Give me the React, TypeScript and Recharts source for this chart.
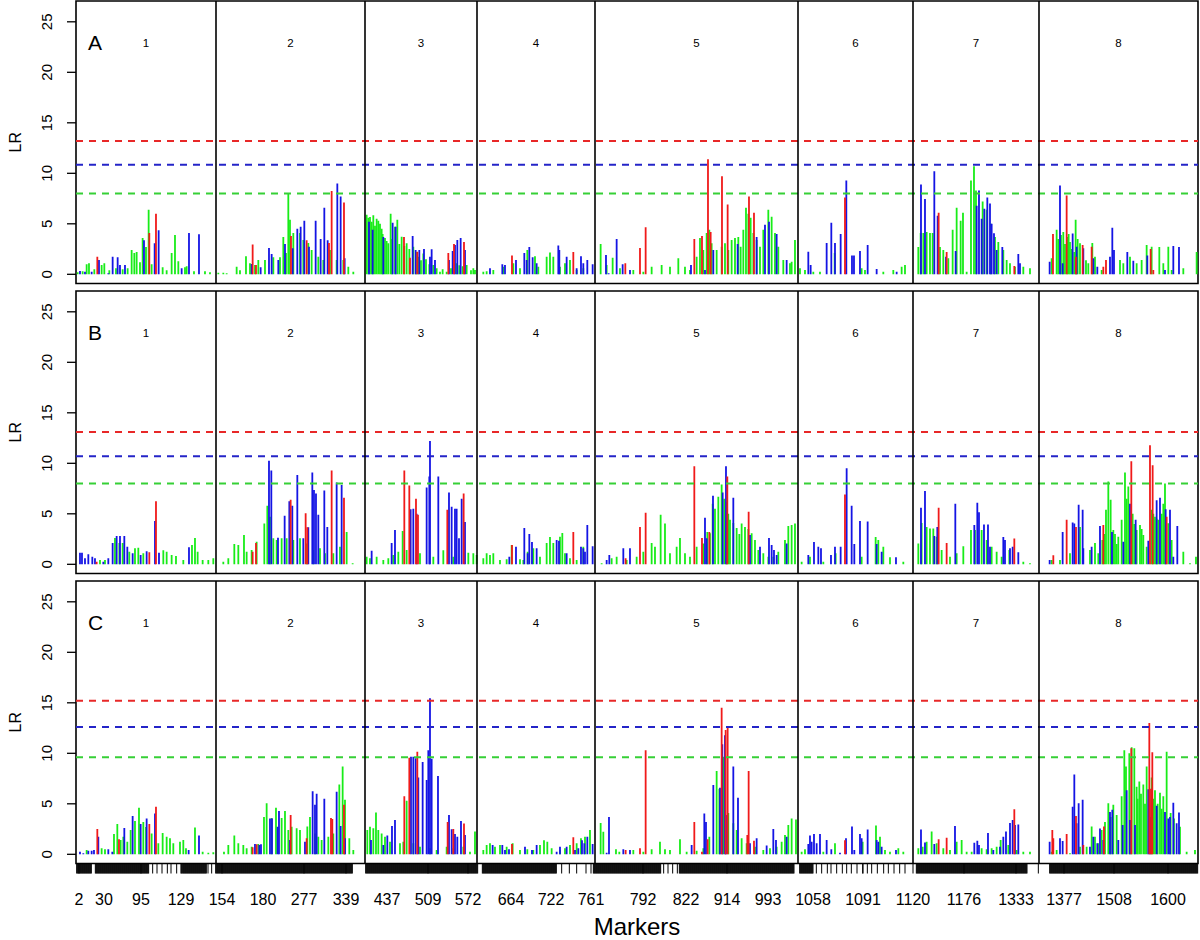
import React from 'react';
import { ComposedChart, Bar, XAxis, YAxis, ReferenceLine, ReferenceArea } from 'recharts';

type Pt = [number, number];

// ---------- Panel A (position along genome, LR) ----------
const A_green: Pt[] = [
  [5,0.2],[20,0.3],[32,0.99],[39,1.1],[55,0.5],[77,0.92],[85,1.1],[100,0.4],[120,0.6],[140,0.5],[155,0.6],[167,2.4],[175,2.1],[182,2.2],[192,1.2],[200,3.6],[210,2.7],[218,6.4],[227,1.0],[260,0.7],[272,0.4],[287,2.1],[297,3.9],[307,1.3],[327,0.7],[332,0.8],[354,0.3],[387,0.3],[402,0.2],
  [427,0.15],[442,0.15],[452,0.1],[482,0.75],[492,0.4],[510,1.8],[522,1.1],[537,0.92],[547,1.42],[567,1.42],[592,1.7],[612,1.7],[622,3.7],[630,2.1],[637,8.0],[642,5.4],[652,4.1],[672,4.1],[682,3.4],[697,3.1],[707,2.4],[727,1.75],[742,1.42],[762,2.4],[782,1.42],[802,1.42],[817,0.75],[832,0.25],
  [872,5.9],[877,5.6],[882,5.68],[887,5.2],[892,5.84],[897,4.8],[902,5.5],[907,5.3],[912,5.0],[917,4.5],[920,4.0],[927,3.6],[932,3.3],[937,3.07],[944,6.0],[948,3.5],[957,4.7],[964,5.4],[970,3.0],[977,3.73],[985,2.8],[992,3.07],[1000,2.5],[1012,2.74],[1020,2.2],[1027,1.75],[1035,1.4],[1042,2.07],[1050,1.5],[1060,1.0],[1072,0.92],[1082,0.6],[1092,0.26],[1100,0.5],[1112,0.26],[1125,0.6],[1142,1.1],[1150,0.9],[1160,0.8],[1172,0.92],[1185,0.4],[1192,0.6],[1197,0.43],
  [1222,0.26],[1232,0.3],[1252,0.43],[1282,0.75],[1312,1.1],[1332,0.6],[1354,2.4],[1377,1.8],[1387,0.75],[1412,1.75],[1422,2.15],[1432,1.75],[1452,0.75],[1467,1.1],[1482,1.42],[1502,0.43],[1522,0.6],
  [1574,3.0],[1592,0.92],[1610,1.65],[1632,0.6],[1672,0.43],[1702,0.26],[1727,0.75],[1757,0.92],[1782,0.75],[1807,1.6],[1827,0.75],[1842,0.43],[1862,1.75],[1872,3.6],[1882,2.4],[1892,4.1],[1900,4.4],[1907,3.07],[1922,2.4],[1937,2.74],[1947,3.07],[1957,2.4],[1967,3.4],[1977,3.6],[1987,3.7],[1994,2.74],[2002,4.4],[2010,6.6],[2017,6.0],[2024,5.6],[2032,4.1],[2042,3.4],[2052,2.74],[2062,4.4],[2077,6.4],[2087,5.7],[2097,4.1],[2107,2.74],[2122,1.42],[2142,1.1],[2147,1.25],[2157,3.4],
  [2172,0.6],[2187,0.43],[2212,0.26],[2232,0.26],[2276,2.1],[2357,0.6],[2367,0.43],[2422,0.26],[2452,0.43],[2477,0.75],[2487,0.92],
  [2527,2.7],[2534,4.1],[2542,4.1],[2552,4.2],[2562,4.1],[2570,4.1],[2592,2.7],[2602,2.4],[2617,1.58],[2630,4.4],[2642,6.6],[2654,5.3],[2661,6.1],[2672,0.26],[2685,9.3],[2694,10.7],[2700,8.3],[2720,7.2],[2732,6.4],[2745,5.0],[2757,3.7],[2767,3.2],[2782,2.4],[2792,1.42],[2802,1.1],[2817,0.75],[2842,0.75],[2862,0.6],
  [2927,1.58],[2942,4.4],[2947,3.5],[2955,3.9],[2962,4.2],[2967,3.0],[2974,3.7],[2978,4.0],[2982,3.2],[2987,2.5],[2995,2.2],[2999,5.4],[3005,3.5],[3012,3.07],[3030,1.4],[3037,1.1],[3049,3.1],[3057,1.75],[3077,0.43],[3132,1.42],[3142,1.1],[3162,1.75],[3182,1.1],[3197,1.42],[3212,2.9],[3227,2.74],[3250,2.7],[3262,1.1],[3277,2.74],[3287,0.43],[3322,0.6],[3362,2.2],
];
const A_blue: Pt[] = [
  [12,0.33],[27,0.26],[47,0.26],[69,1.42],[97,0.1],[110,1.75],[125,1.68],[132,0.92],[147,0.92],[204,3.37],[236,3.07],[248,4.36],[317,0.59],[339,4.09],[369,3.96],
  [527,1.02],[554,0.7],[579,2.6],[587,2.0],[607,1.42],[627,3.0],[650,2.57],[664,4.5],[674,4.7],[685,5.3],[699,2.74],[719,5.3],[734,3.5],[745,6.6],[755,3.37],[784,9.0],[794,7.7],[806,1.6],
  [879,5.2],[890,4.4],[922,3.7],[950,5.1],[959,4.7],[1010,3.8],[1019,2.4],[1030,2.4],[1044,2.5],[1062,1.75],[1067,2.47],[1077,1.42],[1119,1.42],[1130,2.3],[1137,2.9],[1144,3.4],[1154,3.6],[1167,2.4],
  [1242,0.6],[1279,1.0],[1287,0.92],[1320,1.42],[1345,2.1],[1352,1.42],[1360,2.7],[1370,1.68],[1382,1.1],[1447,2.84],[1450,2.4],[1472,1.75],[1502,0.6],[1515,1.8],[1522,1.1],[1534,1.42],[1550,1.0],
  [1590,1.9],[1598,0.1],[1622,3.5],[1640,1.0],[1662,0.43],[1845,0.92],[1887,0.43],[1912,2.4],[1985,3.0],[2042,3.7],[2067,4.9],[2079,5.2],[2102,4.0],[2132,1.42],
  [2197,2.24],[2204,0.92],[2252,3.1],[2266,5.1],[2277,3.1],[2294,4.0],[2311,9.3],[2328,1.85],[2334,1.85],[2352,2.3],[2375,2.9],[2402,0.53],[2462,0.26],
  [2535,8.9],[2547,7.45],[2575,10.2],[2585,5.8],[2610,1.75],[2639,2.3],[2702,6.8],[2709,8.3],[2717,5.5],[2725,6.5],[2734,7.6],[2742,7.0],[2747,5.0],[2754,4.06],[2762,2.4],[2779,2.7],[2827,2.0],[2832,1.1],
  [2921,1.25],[2952,8.8],[2960,1.1],[2990,4.05],[3002,2.74],[3022,2.57],[3052,1.58],[3064,0.75],[3102,1.75],[3109,4.6],[3114,2.4],[3154,2.2],[3172,1.35],[3214,1.85],[3267,0.43],[3292,2.8],[3309,2.7],
];
const A_red: Pt[] = [
  [64,1.75],[220,4.1],[240,6.0],
  [530,2.94],[540,0.92],[645,3.8],[692,3.37],[759,3.1],[767,8.25],[804,7.1],
  [984,3.7],[1002,1.65],[1024,2.24],[1117,2.1],[1134,3.0],[1164,3.2],
  [1308,1.85],[1492,2.2],
  [1648,1.1],[1692,2.6],[1709,4.65],[1855,3.5],[1878,3.8],[1896,11.4],[1904,4.2],[1938,9.7],[1955,6.9],[2019,7.7],[2034,6.1],
  [2307,7.6],
  [2588,6.1],[2612,2.2],[2815,0.82],
  [2931,4.0],[2972,7.8],[3000,1.75],[3020,2.9],[3047,2.74],[3082,0.75],[3090,1.42],[3224,2.5],[3232,0.43],
];

// ---------- Panel B ----------
const B_green: Pt[] = [
  [72,0.43],[87,0.43],[117,2.6],[130,2.1],[140,2.1],[160,1.25],[177,1.58],[187,1.65],[202,1.1],[262,1.4],[272,1.25],[287,0.92],[300,0.82],[322,0.43],[348,1.9],[357,2.6],[365,1.25],[380,0.43],[397,0.43],[412,0.6],
  [442,0.26],[457,0.6],[475,2.0],[487,1.9],[504,2.9],[512,1.25],[527,1.42],[542,2.24],[565,4.05],[574,5.8],[582,4.7],[592,2.57],[602,2.4],[617,2.57],[632,2.57],[652,2.4],[672,2.57],[692,2.07],[712,1.42],[732,1.58],[747,1.1],[772,1.1],[792,1.75],[812,3.2],[830,0.1],
  [872,0.75],[882,0.6],[902,0.75],[922,0.43],[937,0.6],[952,0.92],[967,1.25],[980,3.3],[992,1.42],[1032,1.1],[1072,0.75],[1102,1.4],[1132,0.75],[1177,1.15],[1192,1.1],[1202,0.92],
  [1222,0.6],[1232,1.1],[1242,0.92],[1252,1.1],[1272,0.43],[1292,0.5],[1307,1.9],[1332,0.5],[1342,0.43],[1355,1.25],[1372,1.6],[1392,0.75],[1412,2.1],[1422,2.7],[1432,2.1],[1452,2.74],[1459,3.1],[1467,1.1],[1482,0.6],[1502,0.43],[1522,1.75],
  [1577,0.1],[1607,0.6],[1622,0.75],[1652,0.43],[1682,0.75],[1702,1.25],[1727,2.1],[1737,1.75],[1754,4.9],[1767,4.05],[1782,1.1],[1802,1.75],[1812,2.6],[1827,1.1],[1842,0.75],[1862,1.75],[1882,2.07],[1894,3.2],[1902,3.07],[1910,6.0],[1917,5.5],[1927,6.7],[1937,7.9],[1945,6.5],[1952,6.2],[1957,5.0],[1962,4.4],[1972,4.1],[1982,3.6],[1990,3.0],[1997,4.05],[2007,3.7],[2017,3.5],[2027,3.07],[2037,2.4],[2047,1.42],[2062,1.1],[2077,0.75],[2092,0.75],[2107,1.25],[2127,2.4],[2137,3.8],[2147,3.9],[2157,4.05],
  [2177,0.26],[2202,0.75],[2242,0.26],[2279,1.1],[2357,0.75],[2399,2.7],[2407,2.4],[2422,1.75],[2442,0.7],[2482,0.26],
  [2527,2.07],[2537,4.1],[2552,3.7],[2562,3.55],[2572,3.55],[2582,2.74],[2597,1.42],[2622,0.75],[2642,1.1],[2662,1.8],[2685,3.4],[2697,3.4],[2717,3.4],[2732,2.4],[2747,1.75],[2762,1.25],[2777,0.75],[2800,1.42],[2842,0.26],[2862,0.1],
  [2927,0.43],[2952,0.43],[2982,1.1],[3012,3.7],[3042,1.42],[3057,2.1],[3067,1.1],[3079,2.4],[3085,3.0],[3090,5.4],[3097,8.2],[3104,6.4],[3112,3.4],[3117,3.0],[3122,2.0],[3127,2.74],[3137,4.4],[3147,9.1],[3152,6.5],[3157,7.7],[3170,5.0],[3175,4.0],[3182,3.4],[3192,3.9],[3197,3.5],[3202,2.9],[3212,1.75],[3227,5.4],[3232,5.0],[3237,4.7],[3242,4.5],[3247,4.4],[3257,5.0],[3262,6.0],[3267,8.0],[3277,4.06],[3287,2.4],[3322,1.25],[3342,0.1],[3360,0.75],
];
const B_blue: Pt[] = [
  [12,1.15],[18,1.15],[27,0.6],[37,0.99],[49,0.75],[57,0.6],[82,0.26],[97,0.6],[110,2.1],[122,2.8],[132,2.8],[145,2.8],[154,1.75],[170,1.1],[194,0.92],[212,1.3],[237,4.3],[249,1.15],[339,1.7],
  [579,10.25],[586,9.3],[606,2.63],[626,4.8],[640,6.25],[649,5.8],[664,8.85],[682,2.57],[697,3.67],[709,9.1],[714,7.35],[720,7.0],[727,4.9],[745,7.3],[754,3.7],[782,8.1],[797,7.85],
  [887,1.35],[947,2.1],[957,3.4],[1004,5.45],[1012,5.5],[1022,5.0],[1052,7.6],[1060,8.7],[1062,12.2],[1087,8.7],[1119,7.1],[1127,5.7],[1137,5.5],[1142,5.5],[1149,2.57],[1157,6.5],[1167,4.2],
  [1300,0.75],[1320,1.75],[1345,3.6],[1355,1.1],[1360,3.0],[1368,2.2],[1382,1.6],[1442,2.4],[1449,2.34],[1472,1.1],[1515,1.75],[1522,1.58],[1527,1.25],[1534,3.9],[1550,1.8],
  [1592,0.43],[1600,0.92],[1642,1.6],[1662,1.6],[1887,4.6],[1892,2.57],[1911,6.8],[1940,7.1],[1950,9.7],[1972,6.6],[2022,2.9],[2052,1.75],[2079,2.6],[2087,1.9],[2094,1.42],[2102,0.92],[2132,2.07],
  [2197,0.92],[2214,2.2],[2227,1.75],[2235,1.58],[2265,0.92],[2277,1.75],[2294,1.75],[2312,9.5],[2327,5.8],[2335,2.0],[2352,4.3],[2375,4.25],[2402,2.0],[2417,1.25],[2460,0.7],
  [2535,5.6],[2547,7.25],[2575,2.8],[2584,3.7],[2638,6.0],[2695,3.9],[2704,6.1],[2709,5.15],[2724,3.95],[2736,3.95],[2742,1.75],[2782,2.7],[2787,2.4],[2802,1.58],[2810,1.75],[2827,1.2],
  [2921,0.43],[2960,3.2],[2990,4.15],[2995,4.05],[3008,5.9],[3020,5.4],[3022,1.58],[3047,1.75],[3072,3.8],[3108,3.2],[3142,2.24],[3162,6.0],[3179,4.4],[3217,2.34],[3242,6.35],[3252,6.6],[3269,5.45],[3282,5.4],[3292,0.75],[3304,3.8],
];
const B_red: Pt[] = [
  [62,0.26],[220,1.2],[240,6.25],
  [530,1.25],[540,2.1],[644,6.4],[689,5.05],[694,3.67],[767,9.3],[804,6.6],
  [985,9.3],[1000,7.8],[1020,6.5],[1026,4.9],[1114,5.4],[1163,7.0],
  [1308,1.9],[1492,3.2],
  [1649,0.6],[1692,3.7],[1709,5.1],[1855,9.7],[1878,2.6],[1900,3.2],[1954,8.7],[2018,5.2],
  [2307,6.9],
  [2588,5.6],[2612,2.1],[2815,2.55],
  [2932,0.9],[2972,4.4],[3000,3.7],[3082,3.9],[3166,10.2],[3222,11.8],[3230,9.8],[3272,4.7],
];

// ---------- Panel C ----------
const C_green: Pt[] = [
  [32,0.43],[77,0.6],[87,0.5],[114,2.0],[124,3.0],[134,1.42],[142,1.75],[154,1.25],[164,2.4],[177,3.3],[189,4.6],[202,3.2],[210,2.7],[227,2.07],[247,1.1],[260,2.1],[272,1.75],[282,1.58],[292,1.1],[312,1.25],[322,1.42],[330,0.6],[357,2.65],[380,0.26],[397,0.15],[412,0.2],
  [444,0.26],[457,0.92],[475,1.85],[487,1.1],[502,0.92],[512,0.6],[527,0.75],[547,1.02],[564,3.7],[572,5.05],[587,3.6],[600,4.6],[617,3.6],[627,4.3],[637,2.4],[647,2.74],[662,2.57],[672,2.4],[694,2.75],[702,3.7],[717,2.07],[727,1.75],[737,1.42],[757,1.75],[772,2.07],[790,6.9],[800,8.7],[807,5.4],[820,1.58],[832,0.43],
  [874,2.4],[882,2.74],[892,2.57],[900,4.15],[907,2.4],[917,2.07],[927,1.75],[942,1.25],[972,1.1],[982,1.25],[992,5.3],[1012,1.1],[1032,0.75],[1062,0.6],[1082,0.43],[1112,0.75],[1132,0.6],[1162,0.75],[1182,0.26],[1197,2.25],
  [1222,0.43],[1232,0.92],[1242,1.1],[1257,0.75],[1272,0.92],[1292,0.75],[1310,1.1],[1332,0.43],[1354,0.5],[1372,0.43],[1392,0.92],[1404,1.4],[1414,1.25],[1427,0.6],[1452,0.43],[1467,0.6],[1482,0.92],[1502,1.1],[1515,1.58],[1527,1.75],[1542,2.4],
  [1574,3.1],[1582,2.24],[1620,0.5],[1630,0.26],[1672,0.43],[1702,0.26],[1727,0.5],[1752,1.25],[1767,0.5],[1782,0.43],[1812,1.49],[1832,0.26],[1862,0.36],[1882,0.6],[1900,1.75],[1922,8.25],[1930,6.5],[1942,9.65],[1957,4.1],[1972,3.07],[1982,2.4],[1997,1.58],[2012,1.1],[2037,0.75],[2062,0.43],[2082,0.6],[2102,0.75],[2117,1.25],[2127,1.9],[2137,2.9],[2147,3.55],[2160,3.45],
  [2177,0.26],[2187,0.5],[2242,0.26],[2277,1.1],[2360,1.25],[2400,2.85],[2412,1.75],[2427,0.43],[2442,0.26],[2467,0.6],[2482,0.26],
  [2527,0.6],[2540,0.75],[2552,1.25],[2567,2.25],[2582,1.09],[2602,0.6],[2622,0.43],[2642,1.25],[2657,1.42],[2672,0.26],[2687,0.26],[2717,0.6],[2732,0.5],[2747,0.6],[2762,0.75],[2774,1.42],[2797,0.92],[2822,0.43],[2842,0.26],[2862,0.26],
  [2927,0.26],[2942,0.43],[2982,0.1],[3012,0.75],[3032,0.75],[3047,2.75],[3057,1.75],[3067,1.1],[3077,2.4],[3087,3.2],[3097,5.05],[3104,3.7],[3112,4.9],[3122,3.9],[3137,5.75],[3145,10.3],[3150,8.7],[3160,10.0],[3167,10.6],[3175,10.5],[3182,6.7],[3185,5.5],[3190,7.2],[3195,6.0],[3202,6.9],[3207,5.0],[3212,8.7],[3227,7.6],[3232,5.5],[3237,6.35],[3245,5.0],[3252,6.1],[3257,4.5],[3262,5.75],[3272,10.15],[3284,4.1],[3294,3.55],[3312,2.74],[3332,0.26],[3357,0.43],
];
const C_blue: Pt[] = [
  [12,0.26],[22,0.1],[37,0.36],[47,0.36],[54,0.43],[67,1.75],[97,0.5],[109,0.26],[145,2.6],[170,3.8],[194,3.0],[212,3.55],[237,4.05],[338,0.43],[369,1.85],
  [537,1.02],[550,0.92],[555,0.99],[582,3.55],[588,3.55],[605,2.74],[609,4.3],[642,1.42],[687,1.25],[710,6.25],[717,4.9],[722,6.0],[745,5.5],[782,6.2],[794,2.8],[807,1.58],
  [885,1.42],[922,0.92],[934,1.85],[948,2.8],[957,3.4],[1005,9.65],[1012,9.65],[1019,9.5],[1027,7.6],[1040,9.15],[1052,7.35],[1057,10.3],[1062,15.45],[1067,9.45],[1086,7.75],[1119,3.9],[1127,2.47],[1137,2.0],[1144,1.75],[1155,3.3],[1167,1.92],
  [1250,0.92],[1279,0.92],[1287,0.43],[1299,0.5],[1347,0.75],[1368,0.43],[1382,0.92],[1442,0.26],[1452,0.75],[1472,0.75],[1497,0.43],[1507,0.6],[1518,1.4],[1525,1.1],[1534,1.75],[1550,1.02],
  [1592,0.15],[1599,3.7],[1642,0.5],[1662,0.43],[1847,0.92],[1885,4.05],[1890,3.2],[1912,6.85],[1932,6.6],[1939,10.9],[1947,11.8],[1950,3.9],[1972,8.7],[1986,5.6],[2022,1.1],[2042,1.58],[2072,0.86],[2092,2.5],[2100,1.42],[2132,1.75],
  [2197,1.02],[2202,1.85],[2207,1.25],[2214,2.0],[2222,1.1],[2232,2.0],[2252,1.42],[2266,0.5],[2292,0.15],[2310,1.58],[2328,2.75],[2335,0.43],[2352,2.0],[2357,1.58],[2375,2.45],[2402,1.42],[2407,1.25],[2417,0.75],[2460,0.43],
  [2535,2.45],[2547,1.18],[2575,1.02],[2637,2.8],[2695,1.15],[2704,1.35],[2709,0.92],[2736,2.1],[2752,0.43],[2772,0.75],[2782,1.75],[2790,2.25],[2802,3.1],[2810,3.4],[2817,2.9],[2827,2.95],
  [2921,1.25],[2952,1.58],[2960,1.32],[2990,4.7],[2995,7.9],[3002,3.07],[3008,5.05],[3020,5.4],[3042,0.75],[3052,1.75],[3064,1.1],[3072,2.55],[3082,1.42],[3102,4.2],[3109,4.4],[3127,1.42],[3140,2.9],[3152,6.35],[3162,3.4],[3177,2.9],[3217,6.45],[3222,3.7],[3242,4.8],[3267,4.2],[3277,3.55],[3282,3.7],[3292,5.1],[3302,3.07],[3309,4.15],
];
const C_red: Pt[] = [
  [64,2.5],[129,1.5],[220,3.0],[240,4.7],
  [530,0.7],[542,1.0],[644,3.9],[692,1.58],[765,3.6],[769,3.5],[804,4.9],
  [985,5.75],[1000,9.55],[1024,10.15],[1115,3.2],[1132,2.5],[1164,3.05],
  [1308,1.02],[1492,1.7],
  [1649,0.43],[1692,0.6],[1709,10.3],[1855,3.2],[1878,0.26],[1895,1.5],[1937,14.5],[1949,12.3],[1955,12.5],[2014,1.9],[2018,8.25],[2034,1.35],
  [2307,1.4],
  [2588,1.5],[2612,1.65],[2815,4.45],
  [2929,2.4],[2932,1.58],[2972,2.0],[3000,3.8],[3022,0.92],[3084,2.75],[3166,10.5],[3220,13.0],[3225,6.5],[3229,10.1],
];

// ---------- axes / layout data ----------
const chrBounds = [0, 420, 867, 1203, 1557, 2166, 2511, 2889, 3366];
const chrNames = ['1', '2', '3', '4', '5', '6', '7', '8'];
const xTickLabels = ['2','30','95','129','154','180','277','339','437','509','572','664','722','761','792','822','914','993','1058','1091','1120','1176','1333','1377','1508','1600'];
const xTickPos = [9,84,195,315,438,561,684,810,933,1056,1176,1305,1425,1545,1701,1830,1953,2076,2211,2361,2511,2664,2820,2964,3114,3276];
// marker rug: dense runs of markers [start, end] and isolated markers
const markerRuns: [number, number][] = [
  [2,46],[58,219],[319,391],[419,830],[869,1205],[1219,1441],[1552,1754],[1810,2154],[2171,2210],[2521,2854],[2921,3366],
];
const markerSingles = [
  230,243,258,274,285,302,316,396,407,1457,1480,1502,1530,1763,1776,1790,1804,
  2221,2237,2254,2265,2282,2299,2312,2326,2343,2360,2374,2387,2404,2423,2437,2454,2471,2487,2887,
];
const yTicks = [0, 5, 10, 15, 20, 25];
const thrA = { red: 13.2, blue: 10.85, green: 8.0 };
const thrB = { red: 13.1, blue: 10.7, green: 8.0 };
const thrC = { red: 15.2, blue: 12.6, green: 9.6 };

const FONT = '"Liberation Sans", Arial, Helvetica, sans-serif';
const BAR_COL: Record<string, string> = { green: '#18ec18', blue: '#1414e4', red: '#f01a1a' };
const DASH_COL: Record<string, string> = { red: '#e82828', blue: '#2424c8', green: '#36d036' };
const X_DOMAIN: [number, number] = [0, 3366];
const Y_DOMAIN: [number, number] = [-0.91, 27.06];
const RUG_STEP = 2;

function buildRows(green: Pt[], blue: Pt[], red: Pt[]) {
  return [
    ...green.map(([pos, lr]) => ({ pos, lr, kind: 'green' })),
    ...blue.map(([pos, lr]) => ({ pos, lr, kind: 'blue' })),
    ...red.map(([pos, lr]) => ({ pos, lr, kind: 'red' })),
  ];
}

const rugSet = new Set<number>([...markerSingles, ...xTickPos]);
markerRuns.forEach(([s, e]) => {
  for (let v = s; v <= e; v += RUG_STEP) rugSet.add(v);
});
const rugTicks = Array.from(rugSet).sort((a, b) => a - b);

const labelMap = new Map<number, string>(xTickPos.map((p, i) => [p, xTickLabels[i]]));

const Stick = (p: any) => {
  const { x, y, width, height, payload } = p;
  if (!payload || !isFinite(x) || !isFinite(y) || !(Math.abs(height) > 0.2)) return <g />;
  const cx = x + width / 2;
  return <line x1={cx} x2={cx} y1={y} y2={y + height} stroke={BAR_COL[payload.kind]} strokeWidth={1.8} />;
};

const YTick = (p: any) => {
  const { x, y, payload } = p;
  return (
    <text x={x} y={y} transform={`rotate(-90 ${x} ${y})`} textAnchor="middle" fontSize={15} fill="#000" fontFamily={FONT}>
      {payload.value}
    </text>
  );
};

const XTick = (p: any) => {
  const lab = labelMap.get(p.payload.value);
  if (lab == null) return <g />;
  return (
    <text x={p.x} y={p.y} dy="0.72em" textAnchor="middle" fontSize={16} fill="#000" fontFamily={FONT}>
      {lab}
    </text>
  );
};

const yTitle = (p: any) => {
  const vb = p.viewBox || {};
  const cx = (vb.x || 0) + 15;
  const cy = (vb.y || 0) + (vb.height || 0) / 2;
  return (
    <text x={cx} y={cy} transform={`rotate(-90 ${cx} ${cy})`} textAnchor="middle" dominantBaseline="central" fontSize={16} fill="#000" fontFamily={FONT}>
      LR
    </text>
  );
};

const xTitle = (p: any) => {
  const vb = p.viewBox || {};
  return (
    <text x={(vb.x || 0) + (vb.width || 0) / 2} y={(vb.y || 0) + (vb.height || 0) - 5} textAnchor="middle" fontSize={24} fill="#000" fontFamily={FONT}>
      Markers
    </text>
  );
};

type PanelProps = { letter: string; green: Pt[]; blue: Pt[]; red: Pt[]; thr: { red: number; blue: number; green: number }; showX: boolean };

function Panel({ letter, green, blue, red, thr, showX }: PanelProps) {
  const rows = buildRows(green, blue, red);
  return (
    <ComposedChart
      width={1200}
      height={showX ? 360 : 290}
      data={rows}
      margin={{ top: 1, right: 2, bottom: showX ? 0 : 6.5, left: 0 }}
    >
      <XAxis
        dataKey="pos"
        type="number"
        domain={X_DOMAIN}
        allowDataOverflow
        hide={!showX}
        ticks={rugTicks}
        interval={0}
        height={76.5}
        tickSize={10}
        tickMargin={20}
        tickLine={{ stroke: '#000', strokeWidth: 1 }}
        axisLine={false}
        tick={XTick}
        label={xTitle}
      />
      <YAxis
        type="number"
        domain={Y_DOMAIN}
        allowDataOverflow
        ticks={yTicks}
        interval={0}
        width={76}
        tickSize={9}
        tickMargin={15}
        tickLine={{ stroke: '#000', strokeWidth: 1.3 }}
        axisLine={false}
        tick={YTick}
        label={yTitle}
      />
      <Bar dataKey="lr" shape={Stick} barSize={2} isAnimationActive={false} />
      <ReferenceLine y={thr.red} stroke={DASH_COL.red} strokeWidth={2} strokeDasharray="7 6" />
      <ReferenceLine y={thr.blue} stroke={DASH_COL.blue} strokeWidth={2} strokeDasharray="7 6" />
      <ReferenceLine y={thr.green} stroke={DASH_COL.green} strokeWidth={2} strokeDasharray="7 6" />
      {chrBounds.slice(1, -1).map((b) => (
        <ReferenceLine key={`sep${b}`} x={b} stroke="#000" strokeWidth={1.6} />
      ))}
      {chrNames.map((n, i) => (
        <ReferenceArea
          key={`chr${n}`}
          x1={chrBounds[i]}
          x2={chrBounds[i + 1]}
          fill="none"
          stroke="none"
          label={(p: any) => {
            const vb = p.viewBox || {};
            return (
              <text x={vb.x + vb.width / 2} y={vb.y + 46} textAnchor="middle" fontSize={11.5} fill="#000" fontFamily={FONT}>
                {n}
              </text>
            );
          }}
        />
      ))}
      <ReferenceArea
        x1={chrBounds[0]}
        x2={chrBounds[1]}
        fill="none"
        stroke="none"
        label={(p: any) => {
          const vb = p.viewBox || {};
          return (
            <text x={vb.x + 12} y={vb.y + 49} textAnchor="start" fontSize={21} fill="#000" fontFamily={FONT}>
              {letter}
            </text>
          );
        }}
      />
      <ReferenceArea x1={X_DOMAIN[0]} x2={X_DOMAIN[1]} fill="none" stroke="#000" strokeWidth={1.6} />
    </ComposedChart>
  );
}

export default function App() {
  return (
    <div style={{ position: 'absolute', left: 0, top: 0, width: 1200, height: 940, background: '#fff', fontFamily: FONT }}>
      <Panel letter="A" green={A_green} blue={A_blue} red={A_red} thr={thrA} showX={false} />
      <Panel letter="B" green={B_green} blue={B_blue} red={B_red} thr={thrB} showX={false} />
      <Panel letter="C" green={C_green} blue={C_blue} red={C_red} thr={thrC} showX={true} />
    </div>
  );
}
